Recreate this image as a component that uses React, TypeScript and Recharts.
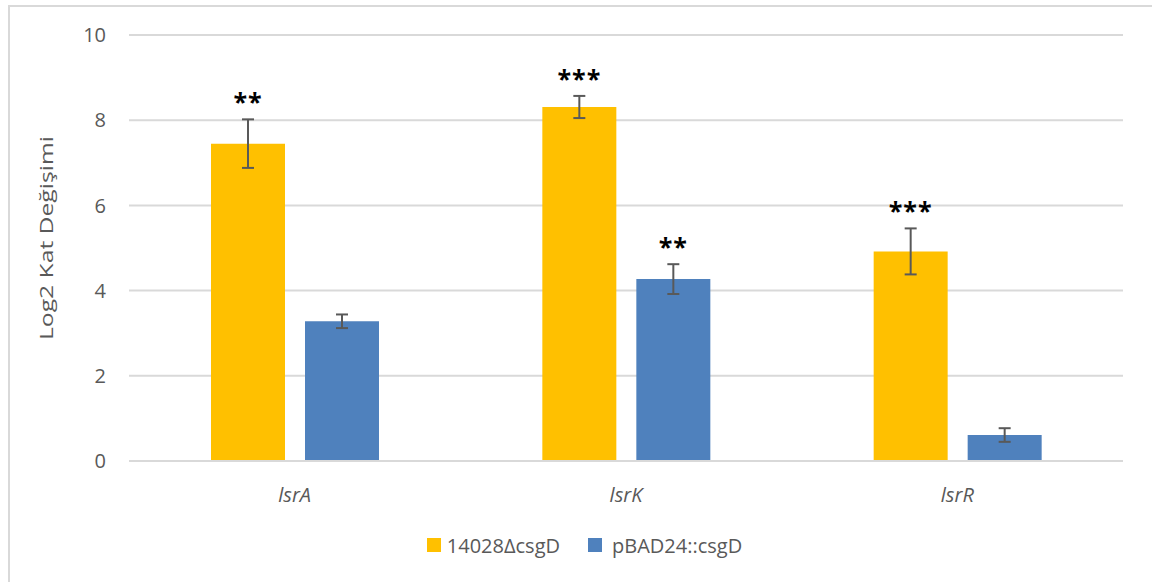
import React from "react";
import {
  BarChart,
  Bar,
  XAxis,
  YAxis,
  CartesianGrid,
  ErrorBar,
  LabelList,
  Legend,
  Label,
} from "recharts";

// lsr gene expression, log2 fold change
const categories = ["lsrA", "lsrK", "lsrR"];
const deletionValues = [7.45, 8.31, 4.92];
const deletionErrors = [0.57, 0.26, 0.54];
const deletionStars = ["**", "***", "***"];
const overValues = [3.28, 4.27, 0.61];
const overErrors = [0.16, 0.35, 0.16];
const overStars = ["", "**", ""];
const yTicks = [0, 2, 4, 6, 8, 10];

const seriesNames = ["14028ΔcsgD", "pBAD24::csgD"];
const YELLOW = "#FFC000";
const BLUE = "#4F81BD";
const TEXT = "#595959";
const GRID = "#D9D9D9";
const FONT = "'Open Sans', sans-serif";

const data = categories.map((name, i) => ({
  name,
  deletion: deletionValues[i],
  deletionErr: deletionErrors[i],
  over: overValues[i],
  overErr: overErrors[i],
}));

function YTick({ x = 0, y = 0, payload }: any) {
  return (
    <text x={x} y={y} dy="0.36em" textAnchor="end" fill={TEXT} fontFamily={FONT} fontSize={20}>
      {payload.value}
    </text>
  );
}

function XTick({ x = 0, y = 0, payload }: any) {
  return (
    <text x={x} y={y + 33} textAnchor="middle" fill={TEXT} fontFamily={FONT} fontSize={20} fontStyle="italic">
      {payload.value}
    </text>
  );
}

// stars sit above the error bar top; bar height / value gives px per unit
function starLabel(values: number[], errors: number[], stars: string[]) {
  return (props: any) => {
    const { x = 0, y = 0, width = 0, height = 0, index = 0 } = props;
    const s = stars[index];
    if (!s) return null;
    const perUnit = height / values[index];
    const errTop = y - errors[index] * perUnit;
    return (
      <text
        x={x + width / 2}
        y={errTop - 8}
        textAnchor="middle"
        fill="#000"
        fontFamily={FONT}
        fontWeight={700}
        fontSize={25}
        letterSpacing={1}
      >
        {s}
      </text>
    );
  };
}

function LegendBox() {
  const colors = [YELLOW, BLUE];
  return (
    <div
      style={{
        display: "flex",
        justifyContent: "center",
        alignItems: "center",
        paddingLeft: 17,
        fontFamily: FONT,
        fontSize: 20,
        color: TEXT,
        height: 28,
      }}
    >
      {seriesNames.map((n, i) => (
        <div key={n} style={{ display: "flex", alignItems: "center", marginRight: i === 0 ? 28 : 0 }}>
          <span style={{ width: 14, height: 14, background: colors[i], marginRight: i === 0 ? 6 : 10 }} />
          <span>{n}</span>
        </div>
      ))}
    </div>
  );
}

export default function App() {
  return (
    <div style={{ position: "absolute", left: 0, top: 0, width: 1152, height: 582, background: "#fff", overflow: "hidden" }}>
      <div
        style={{
          position: "absolute",
          left: 8,
          top: 5,
          width: 1142,
          height: 600,
          border: `2px solid ${GRID}`,
          borderBottom: "none",
        }}
      />
      <BarChart
        width={1152}
        height={582}
        data={data}
        margin={{ top: 35, right: 29, left: 0, bottom: 61 }}
        barSize={74}
        barGap={20}
        style={{ position: "absolute", left: 0, top: 0 }}
      >
        <CartesianGrid vertical={false} stroke={GRID} strokeWidth={2} />
        <XAxis
          dataKey="name"
          height={60}
          axisLine={{ stroke: GRID, strokeWidth: 2 }}
          tickLine={false}
          tick={<XTick />}
        />
        <YAxis
          width={129}
          domain={[0, 10]}
          ticks={yTicks}
          axisLine={false}
          tickLine={false}
          tickMargin={17}
          tick={<YTick />}
        >
          <Label
            content={() => (
              <text
                transform="translate(45,238) rotate(-90) scale(1.3,1)"
                textAnchor="middle"
                dominantBaseline="central"
                fill={TEXT}
                fontFamily={FONT}
                fontSize={19}
              >
                Log2 Kat Değişimi
              </text>
            )}
          />
        </YAxis>
        <Legend
          layout="horizontal"
          verticalAlign="middle"
          align="center"
          wrapperStyle={{ top: 531, left: 0, width: 1152 }}
          content={() => <LegendBox />}
        />
        <Bar dataKey="deletion" name={seriesNames[0]} fill={YELLOW} isAnimationActive={false}>
          <ErrorBar dataKey="deletionErr" direction="y" width={6} stroke={TEXT} strokeWidth={2} isAnimationActive={false} />
          <LabelList dataKey="deletion" content={starLabel(deletionValues, deletionErrors, deletionStars)} />
        </Bar>
        <Bar dataKey="over" name={seriesNames[1]} fill={BLUE} isAnimationActive={false}>
          <ErrorBar dataKey="overErr" direction="y" width={6} stroke={TEXT} strokeWidth={2} isAnimationActive={false} />
          <LabelList dataKey="over" content={starLabel(overValues, overErrors, overStars)} />
        </Bar>
      </BarChart>
    </div>
  );
}
